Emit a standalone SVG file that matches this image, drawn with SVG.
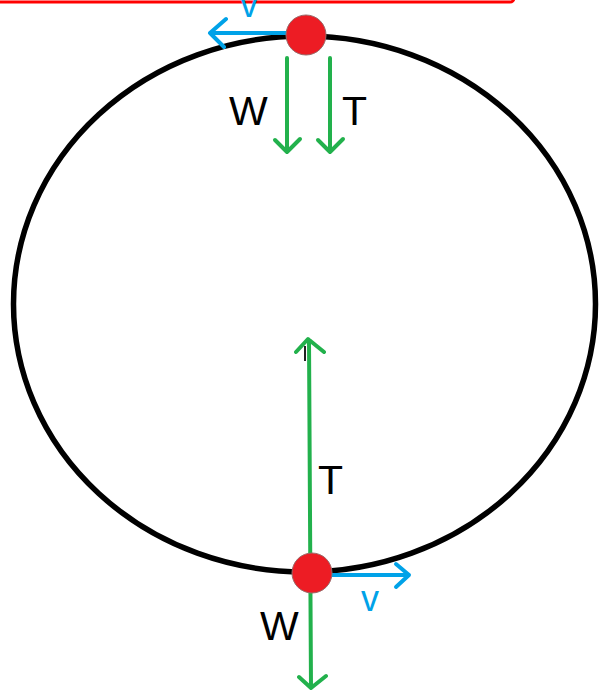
<svg xmlns="http://www.w3.org/2000/svg" width="600" height="692" viewBox="0 0 600 692">
<style>
.g{stroke:#22b14c;stroke-width:4;fill:none;stroke-linecap:round;stroke-linejoin:round}
.b{stroke:#00a2e8;stroke-width:4;fill:none;stroke-linecap:round;stroke-linejoin:round}
.dot{fill:#ed1c24;stroke:#9a6a6a;stroke-width:1}
.lbl{font-family:"Liberation Sans",Arial,sans-serif;font-size:41px;fill:#000}
.vl{font-family:"Liberation Sans",Arial,sans-serif;font-size:36px;fill:#00a2e8}
</style>
<rect x="-10" y="-40" width="524" height="42" rx="4" fill="none" stroke="#ff0000" stroke-width="3"/>
<g id="circle"><ellipse cx="304.5" cy="304" rx="291" ry="268" fill="none" stroke="#000" stroke-width="5.5"/></g>
<g id="connectors">
<path class="b" d="M289 33 H210 M226 19 L210 33 L224 47"/>
<path class="g" d="M287 58 V152 M275 140 L287 152 L300 139"/>
<path class="g" d="M330 58 V152 M318 140 L330 152 L343 139"/>
<path class="g" d="M309 340 L311 688 M296 352 L308 339 L324 352 M299 677 L311 688 L326 676"/>
<line x1="305" y1="346" x2="305" y2="361" stroke="#222" stroke-width="2"/>
<path class="b" d="M330 575 H409 M396 564 L409 575 L396 587"/>
</g>
<g id="top-mass"><circle class="dot" cx="306" cy="35" r="20"/></g>
<g id="bottom-mass"><circle class="dot" cx="312" cy="573" r="20"/></g>
<g id="labels">
<text class="vl" x="240" y="17">v</text>
<text class="lbl" x="229" y="125">W</text>
<text class="lbl" x="342" y="125">T</text>
<text class="lbl" x="318" y="494">T</text>
<text class="lbl" x="260" y="640">W</text>
<text class="vl" x="361" y="611">v</text>
</g>
</svg>
